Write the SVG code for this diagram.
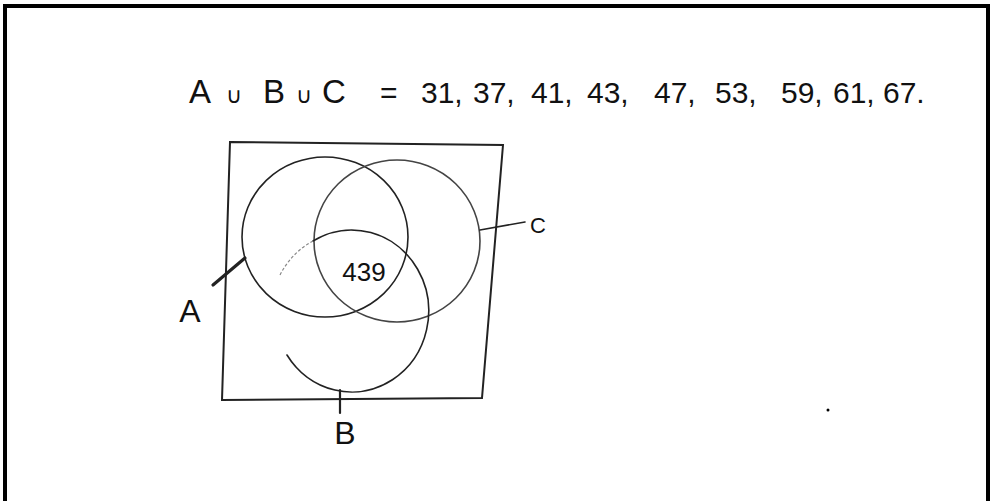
<svg xmlns="http://www.w3.org/2000/svg" width="990" height="501" viewBox="0 0 990 501">
<style>
.t{font-family:"Liberation Sans",Arial,sans-serif;fill:#111}
.ln{fill:none;stroke:#222;stroke-width:1.6;stroke-linecap:round}
.faint{fill:none;stroke:#888;stroke-width:1.2;stroke-dasharray:3 2}
</style>
<rect width="990" height="501" fill="#fff"/>
<path d="M5 501 V6 H988 V501" fill="none" stroke="#000" stroke-width="4"/>
<g id="title">
<text class="t" y="103" font-size="30"><tspan x="189" font-size="33">A</tspan><tspan x="226" font-size="22">∪</tspan><tspan x="263" font-size="33">B</tspan><tspan x="296" font-size="22">∪</tspan><tspan x="322" font-size="33">C</tspan><tspan x="380">=</tspan><tspan x="421">31,</tspan><tspan x="473">37,</tspan><tspan x="531">41,</tspan><tspan x="587">43,</tspan><tspan x="654">47,</tspan><tspan x="715">53,</tspan><tspan x="781">59,</tspan><tspan x="833">61,</tspan><tspan x="883">67.</tspan></text>
</g>
<g id="universe">
<path class="ln" d="M230 142 L503 145 L482 398 L222 400 Z" style="stroke-width:2"/>
</g>
<g id="setA">
<ellipse class="ln" cx="325" cy="237" rx="83" ry="80"/>
</g>
<g id="setC">
<ellipse class="ln" cx="397" cy="241" rx="83" ry="81" style="stroke:#444"/>
</g>
<g id="setB">
<path class="ln" d="M287 355 A77 81 0 1 0 313 241"/>
<path class="faint" d="M313 241 A77 81 0 0 0 280 275"/>
</g>
<g id="connectors">
<line class="ln" x1="213" y1="285" x2="245" y2="258" style="stroke-width:3.2"/>
<line class="ln" x1="480" y1="230" x2="525" y2="222"/>
<line class="ln" x1="340" y1="390" x2="340" y2="413" style="stroke-width:2.2"/>
</g>
<g id="labels">
<text class="t" x="190" y="322" font-size="32" text-anchor="middle">A</text>
<text class="t" x="538" y="233" font-size="22" text-anchor="middle">C</text>
<text class="t" x="345" y="444" font-size="32" text-anchor="middle">B</text>
<text class="t" x="364" y="281" font-size="26" text-anchor="middle">439</text>
</g>
<circle cx="828" cy="410" r="1.5" fill="#000"/>
</svg>
